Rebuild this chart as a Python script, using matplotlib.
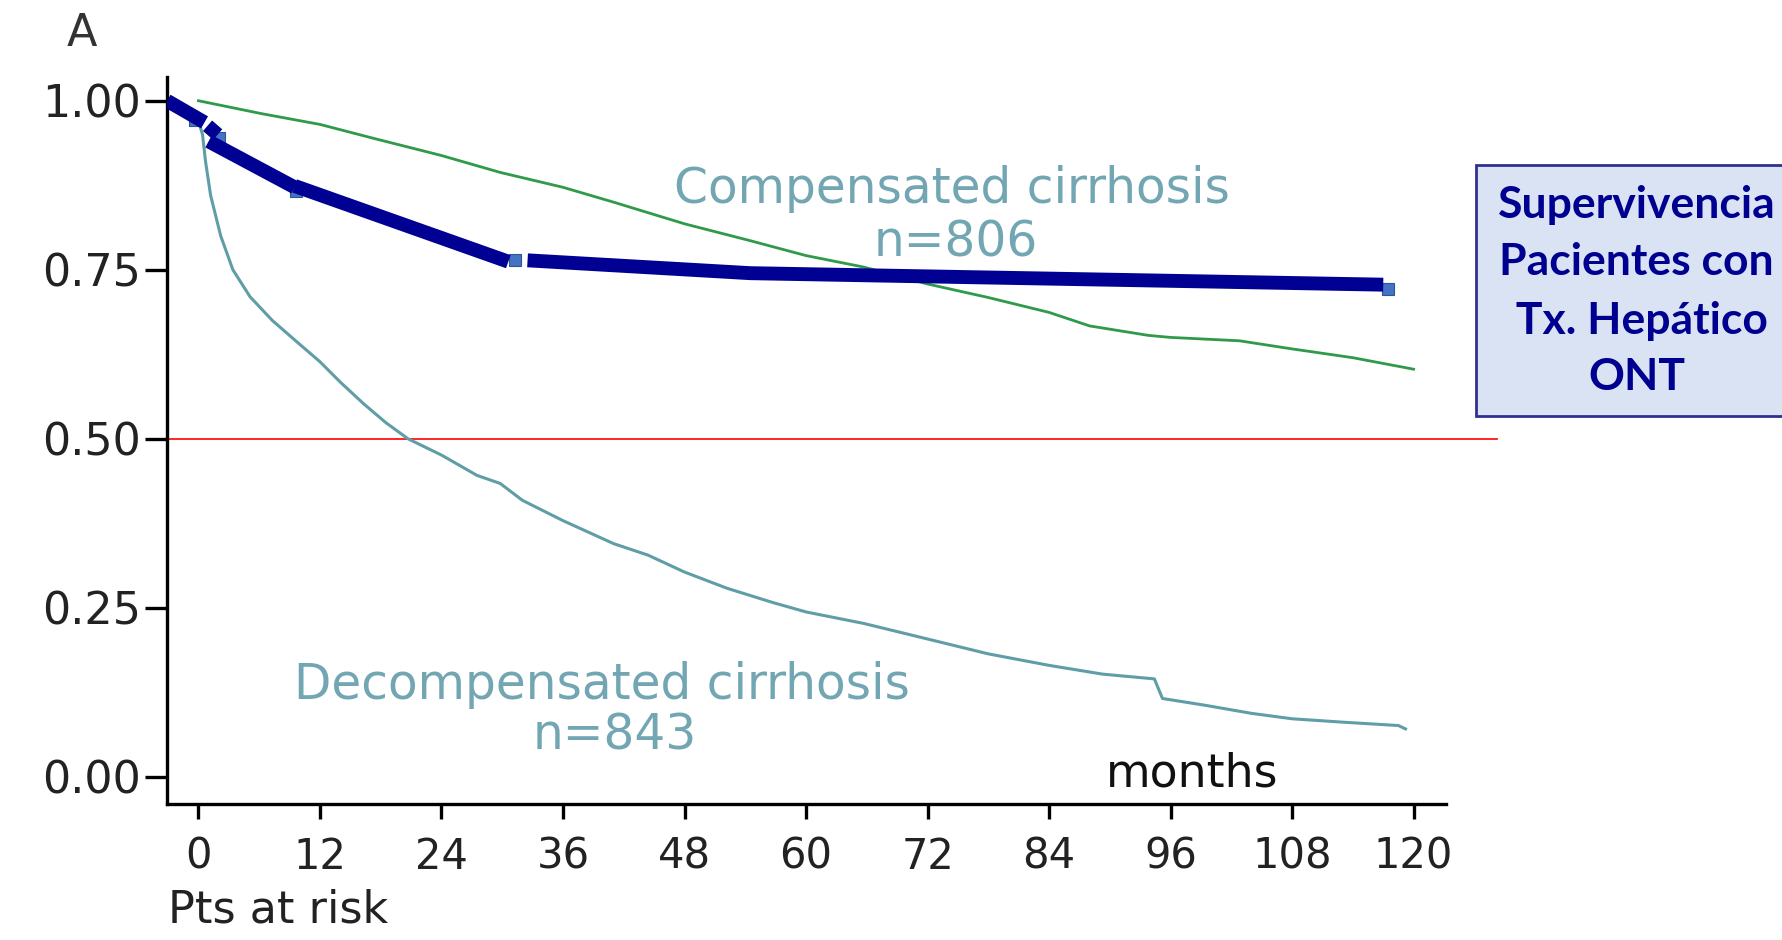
import matplotlib
matplotlib.use("Agg")
import matplotlib.pyplot as plt
from matplotlib.patches import Rectangle

# ---------------- data ----------------
comp_months = [0, 6.2, 12, 17.4, 24, 29.8, 36, 41, 48, 54.5, 60, 65.7, 72, 78, 84, 88,
               93.8, 96, 102.8, 108, 114, 120]
comp_surv = [1.0, 0.981, 0.965, 0.944, 0.919, 0.894, 0.872, 0.850, 0.818, 0.793, 0.771,
             0.754, 0.729, 0.709, 0.687, 0.667, 0.653, 0.650, 0.645, 0.633, 0.620, 0.603]

decomp_months = [0, 0.4, 0.7, 1.2, 2.2, 3.4, 5.1, 7.3, 9.6, 12, 14, 16.3, 18.5, 20.7, 24,
                 27.5, 29.8, 32, 36, 41, 44.4, 48, 52.2, 56.7, 60, 65.7, 72, 78, 84, 89.3,
                 94.4, 95.2, 99.4, 104, 108, 113, 118.5, 119.2]
decomp_surv = [0.97, 0.95, 0.91, 0.86, 0.80, 0.75, 0.71, 0.675, 0.645, 0.614, 0.584, 0.552,
               0.524, 0.50, 0.476, 0.446, 0.434, 0.409, 0.379, 0.345, 0.328, 0.303, 0.279,
               0.258, 0.244, 0.227, 0.204, 0.182, 0.165, 0.152, 0.145, 0.116, 0.106, 0.094,
               0.086, 0.081, 0.076, 0.071]

# ONT liver transplant overlay (hand-drawn segments)
ont_seg_months = [[-3.1, 0.6], [0.9, 1.9], [1.0, 9.5], [9.5, 30.6], [32.5, 54.5, 117]]
ont_seg_surv = [[1.0, 0.968], [0.963, 0.950], [0.940, 0.872], [0.874, 0.762],
                [0.764, 0.745, 0.728]]
ont_mark_months = [-0.3, 2.0, 9.6, 31.3, 117.5]
ont_mark_surv = [0.972, 0.945, 0.866, 0.764, 0.722]

x_ticks = [0, 12, 24, 36, 48, 60, 72, 84, 96, 108, 120]
y_ticks = [0.00, 0.25, 0.50, 0.75, 1.00]
y_ticklabels = ["0.00", "0.25", "0.50", "0.75", "1.00"]
median_line = 0.5

box_lines = ["Supervivencia", "Pacientes con", " Tx. Hepático", "ONT"]

# ---------------- figure ----------------
plt.rcParams['font.family'] = ['DejaVu Sans']
fig = plt.figure(figsize=(17.83, 9.40), dpi=100)
ax = fig.add_axes([0.0937, 0.1447, 0.811 - 0.0937, 0.918 - 0.1447])

ax.set_xlim(-3.1, 123.2)
ax.set_ylim(-0.04, 1.035)

ax.plot(comp_months, comp_surv, color='#2e9a4a', lw=2.0, zorder=3)
ax.plot(decomp_months, decomp_surv, color='#5f9ea6', lw=2.2, zorder=3)

ax.plot([-3.1, 128.2], [median_line, median_line], color='red', lw=1.2, clip_on=False, zorder=2)

ax.plot(ont_mark_months, ont_mark_surv, ls='none', marker='s', ms=9,
        color='#4472c4', mec='#2f5597', mew=0.8, zorder=4)
for xs, ys in zip(ont_seg_months, ont_seg_surv):
    ax.plot(xs, ys, color='#000093', lw=10, solid_capstyle='butt', zorder=5)

ax.spines['top'].set_visible(False)
ax.spines['right'].set_visible(False)
for s in ('left', 'bottom'):
    ax.spines[s].set_linewidth(2.4)

ax.set_xticks(x_ticks)
ax.set_xticklabels([str(t) for t in x_ticks])
ax.set_yticks(y_ticks)
ax.set_yticklabels(y_ticklabels)
ax.tick_params(axis='y', length=16, width=2.4, pad=3, labelsize=32, colors='black')
ax.tick_params(axis='x', length=11, width=2.4, pad=12, labelsize=30, colors='black')
for lab in ax.get_xticklabels() + ax.get_yticklabels():
    lab.set_color('#222222')

label_col = '#72a6b2'
ax.text(74.4, 0.869, "Compensated cirrhosis", ha='center', va='center', fontsize=35, color=label_col)
ax.text(74.8, 0.791, "n=806", ha='center', va='center', fontsize=35, color=label_col)
ax.text(39.8, 0.136, "Decompensated cirrhosis", ha='center', va='center', fontsize=35, color=label_col)
ax.text(41.1, 0.062, "n=843", ha='center', va='center', fontsize=35, color=label_col)
ax.text(98.1, 0.005, "months", ha='center', va='center', fontsize=33, color='#111111')

fig.text(0.046, 0.964, "A", ha='center', va='center', fontsize=32, color='#333333')
fig.text(0.094, 0.032, "Pts at risk", ha='left', va='center', fontsize=32, color='#222222')

# annotation box
fig.patches.append(Rectangle((0.828, 0.5574), 0.2, 0.267, transform=fig.transFigure,
                             facecolor='#dae3f3', edgecolor='#2e3192', lw=2, zorder=1))
box_y = [0.782, 0.721, 0.659, 0.599]
for txt, yy in zip(box_lines, box_y):
    fig.text(0.918, yy, txt, ha='center', va='center', fontsize=32, fontweight='bold',
             color='#000090', family=['Lato', 'DejaVu Sans'])

fig.savefig("out.png", dpi=100)
